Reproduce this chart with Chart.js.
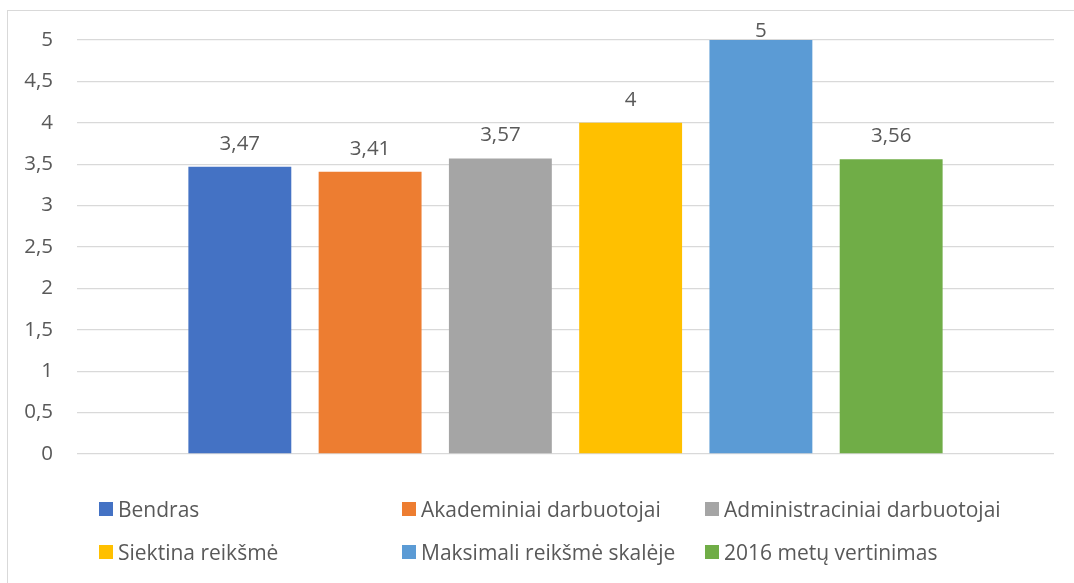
<!DOCTYPE html>
<html>
<head>
<meta charset="utf-8">
<script src="https://cdn.jsdelivr.net/npm/chart.js@4"></script>
<style>
  html, body { margin: 0; padding: 0; background: #fff; }
  #wrap { position: relative; width: 1074px; height: 583px; overflow: hidden; }
  #frame { position: absolute; left: 7px; top: 10px; width: 1100px; height: 620px;
           border: 1px solid #d9d9d9; box-sizing: border-box; }
  #grafik { position: absolute; left: 0; top: 0; }
  #legenda { position: absolute; left: 99px; top: 495px; display: grid;
             grid-template-columns: 303px 303px 303px; grid-auto-rows: 43px;
             font-family: "Open Sans", Lato, sans-serif; font-size: 21px; color: #595959; }
  .kalem { display: flex; align-items: center; height: 28px; white-space: nowrap; }
  .kutu { width: 14px; height: 14px; margin-right: 5px; flex: none; }
</style>
</head>
<body>
<div id="wrap">
  <div id="frame"></div>
  <canvas id="grafik" width="1074" height="583"></canvas>
  <div id="legenda"></div>
</div>
<script>
// Veriler
const kategoriler = [''];
const seriAdlari = [
    'Bendras',
    'Akademiniai darbuotojai',
    'Administraciniai darbuotojai',
    'Siektina reikšmė',
    'Maksimali reikšmė skalėje',
    '2016 metų vertinimas'
];
const seriDegerleri = [3.47, 3.41, 3.57, 4, 5, 3.56];
const seriRenkleri = ['#4472c4', '#ed7d31', '#a5a5a5', '#ffc000', '#5b9bd5', '#70ad47'];
const yMin = 0, yMax = 5, yAdim = 0.5;

const yaziRengi = '#595959';
const yaziFont = { family: '"Open Sans", Lato, sans-serif', size: 20.5 };

const virgul = v => String(v).replace('.', ',');

// Çubuk üstü değer etiketleri
const degerEtiketi = {
    id: 'degerEtiketi',
    afterDatasetsDraw(chart) {
        const ctx = chart.ctx;
        ctx.save();
        ctx.fillStyle = yaziRengi;
        ctx.font = yaziFont.size + 'px ' + yaziFont.family;
        ctx.textAlign = 'center';
        ctx.textBaseline = 'alphabetic';
        chart.data.datasets.forEach((ds, i) => {
            const meta = chart.getDatasetMeta(i);
            meta.data.forEach((bar, j) => {
                const y = Math.max(bar.y - 17, chart.chartArea.top - 3);
                ctx.fillText(virgul(ds.data[j]), bar.x, y);
            });
        });
        ctx.restore();
    }
};

const datasets = seriAdlari.map((ad, i) => ({
    label: ad,
    data: [seriDegerleri[i]],
    backgroundColor: seriRenkleri[i],
    borderWidth: 0,
    categoryPercentage: 0.8,
    barPercentage: 0.79
}));

const grafik = new Chart(document.getElementById('grafik'), {
    type: 'bar',
    data: { labels: kategoriler, datasets: datasets },
    options: {
        responsive: false,
        animation: false,
        layout: { padding: { top: 40, right: 20, bottom: 129, left: 0 } },
        scales: {
            x: { display: false },
            y: {
                min: yMin,
                max: yMax,
                afterFit: s => { s.width = 77; },
                ticks: {
                    stepSize: yAdim,
                    padding: 24,
                    color: yaziRengi,
                    font: yaziFont,
                    callback: v => virgul(v)
                },
                grid: { color: '#d9d9d9', lineWidth: 1.3, drawTicks: false },
                border: { display: false }
            }
        },
        plugins: {
            legend: { display: false },
            tooltip: { enabled: false }
        }
    },
    plugins: [degerEtiketi]
});

// HTML lejant
const lejant = document.getElementById('legenda');
grafik.data.datasets.forEach(ds => {
    const k = document.createElement('div');
    k.className = 'kalem';
    k.innerHTML = '<span class="kutu" style="background:' + ds.backgroundColor + '"></span><span></span>';
    k.lastChild.textContent = ds.label;
    lejant.appendChild(k);
});
</script>
</body>
</html>
